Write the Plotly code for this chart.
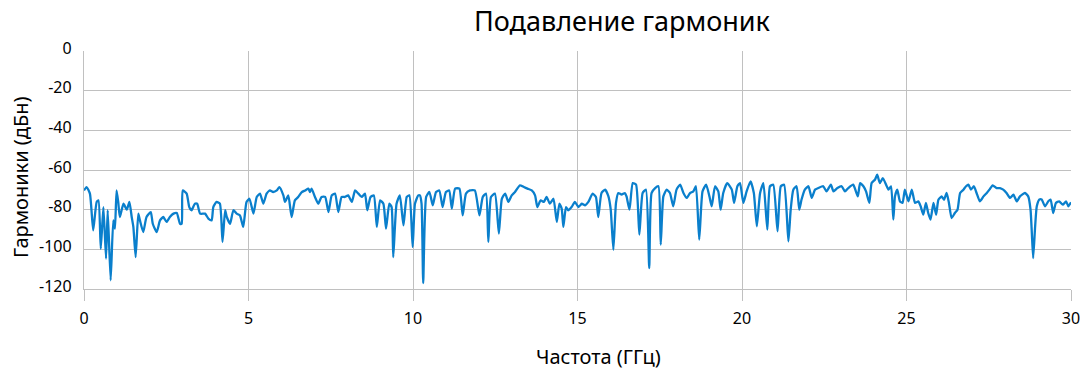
import plotly.graph_objects as go

# Frequency (GHz)
freq = [
    0.00, 0.08, 0.18, 0.28, 0.385, 0.44, 0.51, 0.59, 0.67, 0.72, 0.81, 0.89, 0.94, 0.99,
    1.04, 1.09, 1.20, 1.30, 1.38, 1.45, 1.50, 1.57, 1.65, 1.70, 1.80, 1.90, 2.03, 2.09,
    2.21, 2.31, 2.41, 2.51, 2.61, 2.72, 2.82, 2.92, 2.97, 3.00, 3.12, 3.20, 3.27, 3.37,
    3.44, 3.53, 3.68, 3.78, 3.88, 3.93, 4.03, 4.13, 4.21, 4.29, 4.34, 4.44, 4.54, 4.64,
    4.74, 4.84, 4.94, 5.03, 5.15, 5.25, 5.35, 5.45, 5.55, 5.65, 5.75, 5.86, 5.94, 6.06,
    6.11, 6.21, 6.31, 6.41, 6.51, 6.62, 6.72, 6.82, 6.87, 6.92, 7.02, 7.12, 7.22, 7.33,
    7.43, 7.53, 7.63, 7.73, 7.83, 7.93, 8.03, 8.14, 8.24, 8.34, 8.44, 8.54, 8.61, 8.71,
    8.81, 8.90, 9.00, 9.10, 9.18, 9.28, 9.35, 9.40, 9.50, 9.60, 9.71, 9.81, 9.89, 9.99,
    10.06, 10.16, 10.21, 10.26, 10.31, 10.40, 10.50, 10.60, 10.70, 10.80, 10.90, 11.00,
    11.10, 11.18, 11.28, 11.41, 11.51, 11.61, 11.73, 11.88, 12.02, 12.12, 12.22, 12.29,
    12.37, 12.49, 12.61, 12.70, 12.80, 12.90, 13.00, 13.10, 13.25, 13.37, 13.48, 13.61,
    13.71, 13.78, 13.88, 13.98, 14.06, 14.16, 14.27, 14.37, 14.45, 14.52, 14.57, 14.65,
    14.72, 14.82, 14.92, 15.03, 15.13, 15.23, 15.33, 15.46, 15.56, 15.63, 15.73, 15.84,
    15.94, 16.01, 16.09, 16.17, 16.24, 16.34, 16.44, 16.49, 16.58, 16.68, 16.78, 16.88,
    16.98, 17.08, 17.18, 17.25, 17.36, 17.46, 17.53, 17.61, 17.71, 17.81, 17.91, 18.01,
    18.12, 18.22, 18.32, 18.42, 18.52, 18.60, 18.70, 18.80, 18.91, 19.01, 19.08, 19.18,
    19.28, 19.35, 19.43, 19.55, 19.69, 19.76, 19.86, 19.94, 20.04, 20.14, 20.26, 20.36,
    20.45, 20.55, 20.65, 20.77, 20.85, 20.95, 21.08, 21.18, 21.28, 21.41, 21.48, 21.56,
    21.66, 21.74, 21.81, 21.91, 22.02, 22.12, 22.22, 22.32, 22.47, 22.57, 22.70, 22.78,
    22.90, 23.03, 23.13, 23.23, 23.38, 23.52, 23.59, 23.69, 23.77, 23.87, 23.94, 24.04,
    24.11, 24.19, 24.28, 24.38, 24.45, 24.53, 24.60, 24.65, 24.72, 24.80, 24.88, 24.95,
    25.06, 25.16, 25.26, 25.36, 25.43, 25.51, 25.59, 25.66, 25.73, 25.82, 25.90, 25.97,
    26.07, 26.14, 26.22, 26.29, 26.37, 26.47, 26.55, 26.63, 26.73, 26.81, 26.88, 26.96,
    27.05, 27.13, 27.23, 27.34, 27.44, 27.52, 27.62, 27.74, 27.84, 27.94, 28.04, 28.15,
    28.25, 28.35, 28.45, 28.60, 28.70, 28.77, 28.81, 28.85, 28.91, 28.96, 29.04, 29.11,
    29.21, 29.31, 29.38, 29.46, 29.54, 29.64, 29.75, 29.85, 29.92, 30.00,
]

# Harmonics level (dBc)
harm = [
    -70.3, -68.6, -71.9, -90.4, -76.1, -75.3, -99.7, -78.7, -104.7, -80.3, -115.6, -85.4, -89.6, -70.3,
    -76.1, -83.7, -77.0, -80.0, -76.1, -83.7, -88.7, -103.9, -82.0, -85.4, -91.3, -83.7, -81.2, -87.1,
    -91.3, -85.4, -83.7, -86.2, -83.7, -82.0, -81.7, -87.1, -87.1, -70.3, -71.9, -78.7, -80.3, -77.0,
    -77.0, -82.0, -82.0, -84.5, -85.4, -78.7, -76.1, -77.0, -96.3, -80.3, -83.7, -87.1, -80.3, -82.0,
    -82.9, -88.7, -76.1, -74.5, -82.0, -73.6, -71.9, -77.0, -71.9, -70.3, -71.1, -70.3, -68.6, -72.8,
    -76.1, -72.8, -83.7, -75.3, -73.6, -71.1, -70.3, -69.4, -71.1, -69.4, -73.6, -77.0, -73.6, -73.6,
    -81.2, -72.8, -71.9, -81.2, -73.6, -73.6, -72.8, -76.1, -70.3, -71.9, -73.6, -71.9, -80.3, -73.6,
    -72.8, -88.7, -75.3, -77.0, -89.6, -77.0, -78.7, -103.9, -77.0, -72.8, -87.9, -73.6, -72.8, -98.8,
    -77.0, -72.8, -72.8, -77.0, -117.0, -73.6, -71.1, -77.8, -71.1, -70.3, -78.7, -71.1,
    -70.3, -79.5, -69.4, -69.4, -82.9, -71.9, -70.3, -70.3, -82.9, -73.6, -71.9, -96.3,
    -73.6, -71.9, -92.1, -74.5, -71.9, -76.1, -72.8, -71.1, -67.7, -68.6, -69.4, -70.3,
    -72.8, -78.7, -75.3, -76.1, -73.6, -77.0, -74.5, -86.2, -77.0, -79.5, -88.7, -78.7,
    -80.3, -78.7, -76.1, -78.7, -77.0, -77.8, -76.1, -71.9, -73.6, -83.7, -71.6, -69.9,
    -73.3, -80.0, -100.2, -76.6, -71.6, -72.4, -71.6, -73.3, -80.0, -66.6, -67.4, -92.6,
    -71.6, -69.9, -109.4, -71.6, -69.1, -68.2, -97.6, -73.3, -69.9, -71.6, -78.3, -69.9,
    -67.4, -71.6, -74.1, -71.6, -70.8, -68.2, -95.1, -70.8, -67.4, -73.3, -78.3, -68.2,
    -70.8, -80.0, -71.6, -66.6, -69.9, -76.6, -68.2, -66.6, -76.6, -70.8, -65.7, -71.6,
    -88.4, -71.6, -66.6, -90.1, -68.2, -67.4, -90.9, -68.2, -67.4, -96.0, -80.0, -69.9,
    -68.2, -80.0, -74.9, -69.9, -68.2, -74.1, -69.9, -69.1, -68.2, -70.8, -67.4, -70.8,
    -69.1, -68.2, -70.8, -69.1, -67.4, -73.3, -66.6, -68.2, -70.8, -76.6, -66.6, -64.9,
    -62.4, -66.6, -64.1, -67.4, -69.9, -68.2, -85.0, -73.3, -69.9, -75.8, -76.6, -69.9,
    -75.8, -69.9, -76.6, -75.8, -78.3, -82.5, -76.6, -81.7, -85.0, -76.6, -82.5, -75.0,
    -73.3, -75.0, -71.6, -76.6, -84.2, -81.7, -80.0, -71.6, -69.9, -68.2, -67.4, -69.9,
    -68.2, -71.6, -75.8, -73.3, -71.6, -69.9, -67.7, -69.1, -69.1, -69.9, -71.6, -74.1,
    -72.4, -75.8, -73.3, -71.6, -73.3, -80.0, -91.8, -104.4, -88.4, -78.3, -74.9, -74.9,
    -78.3, -75.8, -74.9, -81.7, -76.6, -75.8, -77.5, -75.8, -78.3, -76.3,
]

x_ticks = [0, 5, 10, 15, 20, 25, 30]
y_ticks = [0, -20, -40, -60, -80, -100, -120]

title_text = "Подавление гармоник"
x_title = "Частота (ГГц)"
y_title = "Гармоники (дБн)"

FONT = "Noto Sans"
GRID = "#c0c0c0"

fig = go.Figure()
fig.add_trace(go.Scatter(
    x=freq, y=harm, mode="lines",
    line=dict(color="#0a7fcc", width=2.3, shape="spline", smoothing=0.5),
    showlegend=False, hoverinfo="x+y",
))

fig.update_layout(
    width=1084, height=370,
    margin=dict(l=84, r=13, t=51, b=81, autoexpand=False),
    paper_bgcolor="white", plot_bgcolor="white",
    font=dict(family=FONT, color="#000000"),
    title=dict(text=title_text, x=622/1084, xanchor="center",
               y=1 - 22/370, yanchor="middle", yref="container", automargin=False,
               font=dict(family=FONT, size=27, color="#000000")),
    showlegend=False,
    annotations=[
        dict(text=y_title, xref="paper", yref="paper",
             x=-64/987, y=(289-177)/238, xanchor="center", yanchor="middle",
             textangle=-90, showarrow=False,
             font=dict(family=FONT, size=20, color="#000000")),
        dict(text=x_title, xref="paper", yref="paper",
             x=(598-84)/987, y=-(357-289)/238, xanchor="center", yanchor="middle",
             showarrow=False,
             font=dict(family=FONT, size=20, color="#000000")),
    ],
)

fig.update_xaxes(
    range=[0, 30], tickvals=x_ticks, ticktext=[str(v) for v in x_ticks],
    showgrid=True, gridcolor=GRID, gridwidth=1.3,
    showline=True, linecolor=GRID, linewidth=1.3, mirror=False,
    ticks="outside", ticklen=11, tickcolor=GRID, tickwidth=1.3,
    ticklabelstandoff=4,
    tickfont=dict(family=FONT, size=16, color="#000000"),
    zeroline=False, fixedrange=True, automargin=False,
)
fig.update_yaxes(
    range=[-120, 0], tickvals=y_ticks, ticktext=[str(v) for v in y_ticks],
    showgrid=True, gridcolor=GRID, gridwidth=1.3,
    showline=True, linecolor=GRID, linewidth=1.3,
    ticks="", ticklabelstandoff=8, ticklabelshift=-3,
    tickfont=dict(family=FONT, size=16, color="#000000"),
    zeroline=False, fixedrange=True, automargin=False,
)

fig.write_html(
    "out.html",
    config={"displayModeBar": False},
    post_script="document.body.style.margin='0';document.body.style.overflow='hidden';",
)
